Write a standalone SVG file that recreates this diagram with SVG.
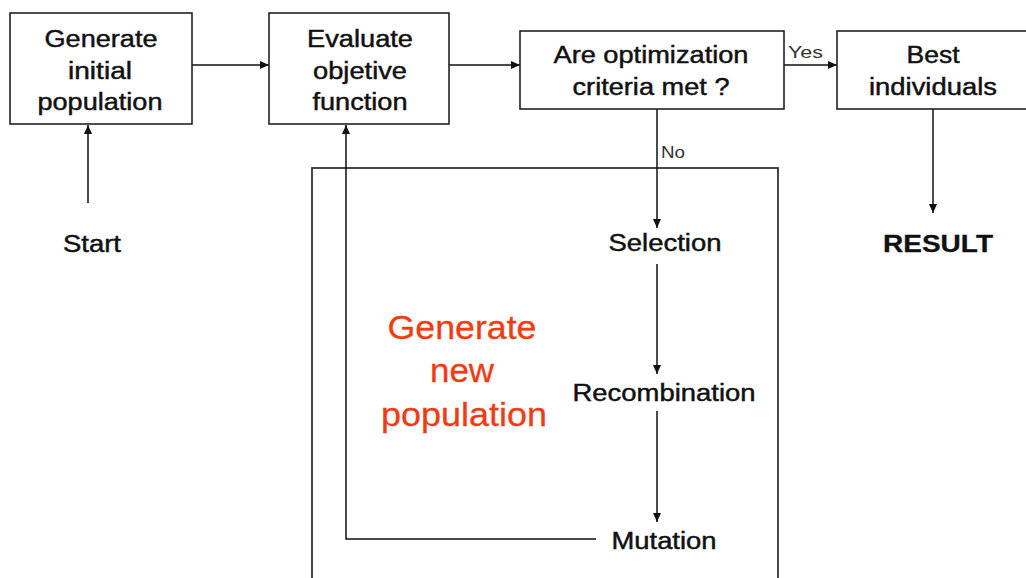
<svg xmlns="http://www.w3.org/2000/svg" width="1026" height="578" viewBox="0 0 1026 578">
  <style>
    .box { fill: #ffffff; stroke: #222222; stroke-width: 1.6; }
    .frame { fill: none; stroke: #333333; stroke-width: 1.8; }
    .link { fill: none; stroke: #111111; stroke-width: 1.5; }
    .t { font-family: "Liberation Sans", Arial, sans-serif; font-size: 23px; fill: #111111; stroke: #111111; stroke-width: 0.45; text-anchor: middle; }
    .small { font-family: "Liberation Sans", Arial, sans-serif; font-size: 16px; fill: #333333; }
    .bold { font-weight: bold; stroke-width: 0.3; }
    .red { font-family: "Liberation Sans", Arial, sans-serif; font-size: 34px; fill: #f03c14; stroke: #f03c14; stroke-width: 0.3; text-anchor: middle; }
  </style>
  <defs>
    <marker id="arrow" markerUnits="userSpaceOnUse" markerWidth="10" markerHeight="8" refX="9" refY="4" orient="auto">
      <path d="M0,0 L9,4 L0,8 Z" fill="#111111"/>
    </marker>
  </defs>
  <rect width="1026" height="578" fill="#ffffff"/>

  <!-- enclosing frame for the new-population loop -->
  <g id="loop-frame">
    <rect class="frame" x="312" y="168" width="466" height="430"/>
    <text class="red" x="462" y="339" textLength="149" lengthAdjust="spacingAndGlyphs">Generate</text>
    <text class="red" x="462" y="382" textLength="64" lengthAdjust="spacingAndGlyphs">new</text>
    <text class="red" x="464" y="426" textLength="166" lengthAdjust="spacingAndGlyphs">population</text>
  </g>

  <g id="connectors">
    <line class="link" x1="192" y1="65" x2="269" y2="65" marker-end="url(#arrow)"/>
    <line class="link" x1="449" y1="65" x2="520" y2="65" marker-end="url(#arrow)"/>
    <line class="link" x1="784" y1="65" x2="837" y2="65" marker-end="url(#arrow)"/>
    <line class="link" x1="88" y1="203" x2="88" y2="125" marker-end="url(#arrow)"/>
    <line class="link" x1="657" y1="109" x2="657" y2="228" marker-end="url(#arrow)"/>
    <line class="link" x1="657" y1="264" x2="657" y2="374" marker-end="url(#arrow)"/>
    <line class="link" x1="657" y1="411" x2="657" y2="522" marker-end="url(#arrow)"/>
    <polyline class="link" points="596,539 346,539 346,125" marker-end="url(#arrow)"/>
    <line class="link" x1="933" y1="109" x2="933" y2="213" marker-end="url(#arrow)"/>
    <text class="small" x="788" y="58" textLength="35" lengthAdjust="spacingAndGlyphs">Yes</text>
    <text class="small" x="661" y="158" textLength="24" lengthAdjust="spacingAndGlyphs">No</text>
  </g>

  <g id="generate-initial">
    <rect class="box" x="10" y="13" width="182" height="111"/>
    <text class="t" x="101" y="47" textLength="113" lengthAdjust="spacingAndGlyphs">Generate</text>
    <text class="t" x="100" y="79" textLength="64" lengthAdjust="spacingAndGlyphs">initial</text>
    <text class="t" x="100" y="110" textLength="125" lengthAdjust="spacingAndGlyphs">population</text>
  </g>

  <g id="evaluate">
    <rect class="box" x="269" y="13" width="180" height="111"/>
    <text class="t" x="360" y="47" textLength="106" lengthAdjust="spacingAndGlyphs">Evaluate</text>
    <text class="t" x="360" y="79" textLength="94" lengthAdjust="spacingAndGlyphs">objetive</text>
    <text class="t" x="360" y="110" textLength="95" lengthAdjust="spacingAndGlyphs">function</text>
  </g>

  <g id="criteria">
    <rect class="box" x="520" y="31" width="264" height="78"/>
    <text class="t" x="651" y="63" textLength="195" lengthAdjust="spacingAndGlyphs">Are optimization</text>
    <text class="t" x="651" y="95" textLength="157" lengthAdjust="spacingAndGlyphs">criteria met ?</text>
  </g>

  <g id="best">
    <rect class="box" x="837" y="31" width="200" height="78"/>
    <text class="t" x="933" y="63" textLength="53" lengthAdjust="spacingAndGlyphs">Best</text>
    <text class="t" x="933" y="95" textLength="128" lengthAdjust="spacingAndGlyphs">individuals</text>
  </g>

  <g id="start">
    <text class="t" x="92" y="252" textLength="58" lengthAdjust="spacingAndGlyphs">Start</text>
  </g>

  <g id="result">
    <text class="t bold" x="938" y="252" textLength="110" lengthAdjust="spacingAndGlyphs">RESULT</text>
  </g>

  <g id="selection">
    <text class="t" x="665" y="251" textLength="113" lengthAdjust="spacingAndGlyphs">Selection</text>
  </g>

  <g id="recombination">
    <text class="t" x="664" y="401" textLength="183" lengthAdjust="spacingAndGlyphs">Recombination</text>
  </g>

  <g id="mutation">
    <text class="t" x="664" y="549" textLength="105" lengthAdjust="spacingAndGlyphs">Mutation</text>
  </g>
</svg>
